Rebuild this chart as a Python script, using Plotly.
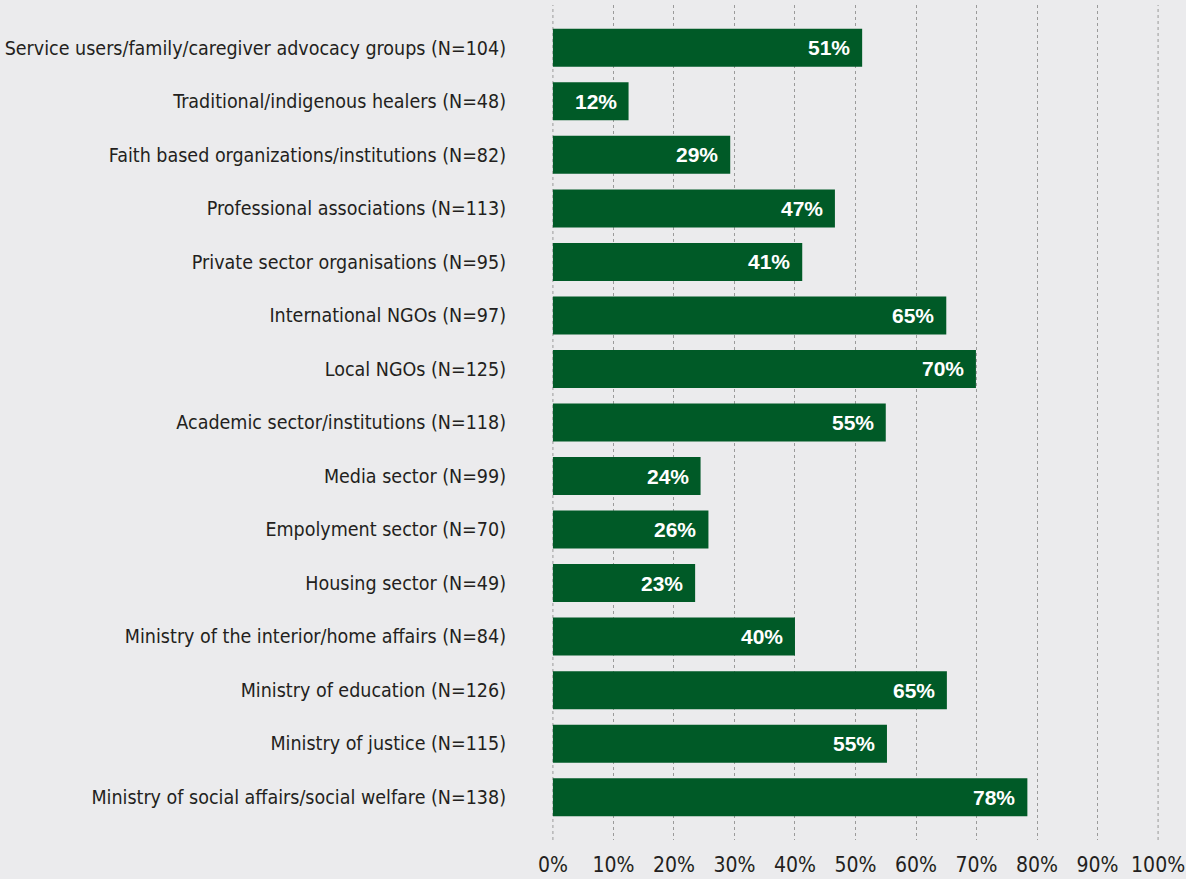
import plotly.graph_objects as go

categories = [
    "Service users/family/caregiver advocacy groups (N=104)",
    "Traditional/indigenous healers (N=48)",
    "Faith based organizations/institutions (N=82)",
    "Professional associations (N=113)",
    "Private sector organisations (N=95)",
    "International NGOs (N=97)",
    "Local NGOs (N=125)",
    "Academic sector/institutions (N=118)",
    "Media sector (N=99)",
    "Empolyment sector (N=70)",
    "Housing sector (N=49)",
    "Ministry of the interior/home affairs (N=84)",
    "Ministry of education (N=126)",
    "Ministry of justice (N=115)",
    "Ministry of social affairs/social welfare (N=138)",
]
values = [51.1, 12.5, 29.3, 46.6, 41.2, 65.0, 69.9, 55.0, 24.4, 25.7, 23.5, 40.0, 65.1, 55.2, 78.4]
labels = ["51%", "12%", "29%", "47%", "41%", "65%", "70%", "55%", "24%", "26%", "23%", "40%", "65%", "55%", "78%"]
tick_vals = [0, 10, 20, 30, 40, 50, 60, 70, 80, 90, 100]
tick_text = ["0%", "10%", "20%", "30%", "40%", "50%", "60%", "70%", "80%", "90%", "100%"]

FONT = "DejaVu Sans Condensed, Liberation Sans Narrow, sans-serif"
BG = "#ebebed"
GREEN = "#005a27"
GRID = "#9a9a9a"

fig = go.Figure(
    go.Bar(
        x=values,
        y=categories,
        orientation="h",
        marker=dict(color=GREEN, line=dict(width=0)),
        width=0.71,
        hoverinfo="skip",
    )
)

# edge gridlines (0% and 100%) that plotly would otherwise clip
for tv in (tick_vals[0], tick_vals[-1]):
    fig.add_shape(
        type="line", xref="x", yref="paper", x0=tv, x1=tv, y0=0, y1=1,
        line=dict(color=GRID, width=1, dash="dot"), layer="below",
    )

for c, v, t in zip(categories, values, labels):
    fig.add_annotation(
        x=v, y=c, text="<b>" + t + "</b>", showarrow=False,
        xanchor="right", xshift=-10,
        font=dict(family="Liberation Sans, Arial, sans-serif", size=21, color="white"),
    )

fig.update_layout(
    width=1186, height=879,
    paper_bgcolor=BG, plot_bgcolor=BG,
    margin=dict(l=552, r=27, t=5, b=39),
    showlegend=False,
    font=dict(family=FONT, size=20, color="#231f20"),
    xaxis=dict(
        range=[-0.15, 100.15], tickvals=tick_vals, ticktext=tick_text,
        showgrid=True, gridcolor=GRID, griddash="dot", gridwidth=1,
        zeroline=False, showline=False, ticks="", ticklabelstandoff=10,
        tickfont=dict(family=FONT, size=21, color="#231f20"),
        fixedrange=True, automargin=False,
    ),
    yaxis=dict(
        categoryorder="array", categoryarray=categories,
        range=[14.8, -0.8], showgrid=False, zeroline=False, showline=False,
        ticks="", ticklabelstandoff=45,
        tickfont=dict(family=FONT, size=19.5, color="#231f20"),
        fixedrange=True, automargin=False,
    ),
)

fig.write_html(
    "out.html",
    config={"displayModeBar": False},
    post_script="document.body.style.margin='0';document.body.style.overflow='hidden';",
)
